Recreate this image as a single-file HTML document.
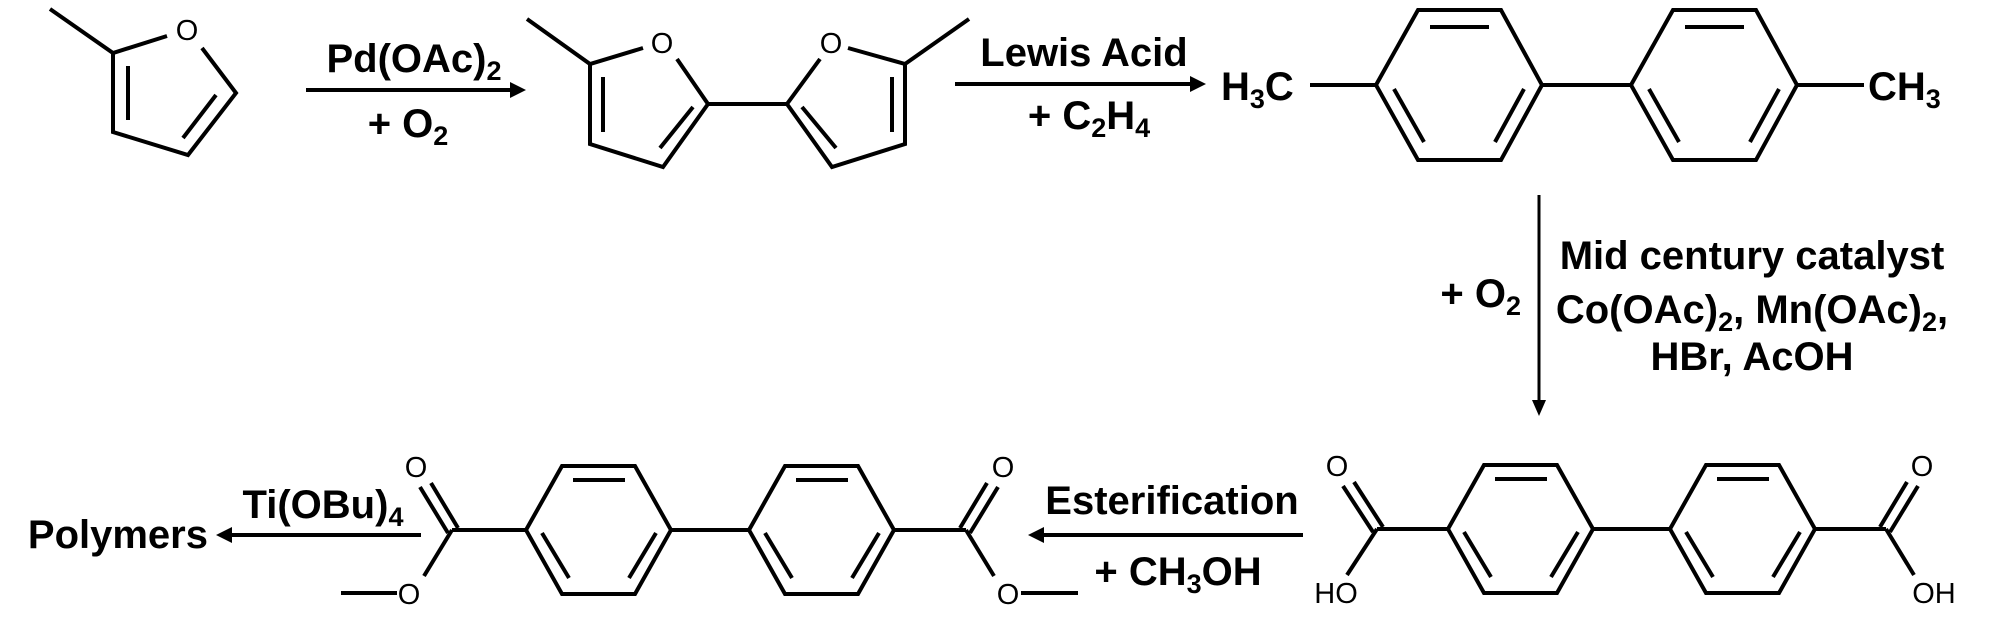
<!DOCTYPE html>
<html><head><meta charset="utf-8"><style>
html,body{margin:0;padding:0;background:#fff;}
svg{display:block}
.t{font-family:"Liberation Sans",Arial,sans-serif;font-weight:bold;font-size:40px;fill:#000}
.o{font-family:"Liberation Sans",Arial,sans-serif;font-size:29px;fill:#000}
</style></head><body>
<svg width="2000" height="619" viewBox="0 0 2000 619" xmlns="http://www.w3.org/2000/svg">
<g fill="none" stroke="#000" stroke-width="4" stroke-linejoin="miter" stroke-linecap="butt">
<!-- methylfuran -->
<polyline points="50,9 113,53 167,36"/>
<polyline points="202,48 236,93 188,155 113,132 113,53"/>
<line x1="128" y1="66" x2="128" y2="120"/>
<line x1="216" y1="95" x2="183" y2="138"/>
<!-- bifuran -->
<polyline points="527,19 590,64 643,48"/>
<polyline points="677,59 708,104 663,167 590,144 590,64"/>
<line x1="603" y1="77" x2="603" y2="132"/>
<line x1="693" y1="107" x2="660" y2="148"/>
<line x1="708" y1="104" x2="787" y2="104"/>
<polyline points="820,59 787,104 832,167 905,144 905,64 848,48"/>
<line x1="905" y1="64" x2="969" y2="19"/>
<line x1="892" y1="77" x2="892" y2="132"/>
<line x1="802" y1="107" x2="836" y2="148"/>
<!-- bitolyl -->
<g>
<polygon points="1376,85 1418,10 1501,10 1542,85 1501,160 1418,160"/>
<line x1="1430" y1="27" x2="1489" y2="27"/>
<line x1="1424" y1="142" x2="1394" y2="89"/>
<line x1="1524" y1="89" x2="1495" y2="142"/>
</g>
<g transform="translate(255,0)">
<polygon points="1376,85 1418,10 1501,10 1542,85 1501,160 1418,160"/>
<line x1="1430" y1="27" x2="1489" y2="27"/>
<line x1="1424" y1="142" x2="1394" y2="89"/>
<line x1="1524" y1="89" x2="1495" y2="142"/>
</g>
<line x1="1310" y1="85" x2="1376" y2="85"/>
<line x1="1542" y1="85" x2="1631" y2="85"/>
<line x1="1797" y1="85" x2="1864" y2="85"/>
<!-- bottom rings -->
<g>
<polygon points="1448,529 1484,465 1557,465 1593,529 1557,593 1484,593"/>
<line x1="1495" y1="479" x2="1547" y2="479"/>
<line x1="1491" y1="577" x2="1464" y2="532"/>
<line x1="1578" y1="532" x2="1551" y2="577"/>
</g>
<g transform="translate(222,0)">
<polygon points="1448,529 1484,465 1557,465 1593,529 1557,593 1484,593"/>
<line x1="1495" y1="479" x2="1547" y2="479"/>
<line x1="1491" y1="577" x2="1464" y2="532"/>
<line x1="1578" y1="532" x2="1551" y2="577"/>
</g>
<line x1="1593" y1="529" x2="1670" y2="529"/>
<g transform="translate(-922,1)">
<polygon points="1448,529 1484,465 1557,465 1593,529 1557,593 1484,593"/>
<line x1="1495" y1="479" x2="1547" y2="479"/>
<line x1="1491" y1="577" x2="1464" y2="532"/>
<line x1="1578" y1="532" x2="1551" y2="577"/>
</g>
<g transform="translate(-699,1)">
<polygon points="1448,529 1484,465 1557,465 1593,529 1557,593 1484,593"/>
<line x1="1495" y1="479" x2="1547" y2="479"/>
<line x1="1491" y1="577" x2="1464" y2="532"/>
<line x1="1578" y1="532" x2="1551" y2="577"/>
</g>
<line x1="671" y1="530" x2="749" y2="530"/>
<!-- diacid carboxyls -->
<line x1="1377" y1="529" x2="1448" y2="529"/>
<polyline points="1347,575 1377,529"/>
<line x1="1373" y1="532" x2="1343" y2="486"/>
<line x1="1383" y1="527" x2="1354" y2="482"/>
<line x1="1815" y1="529" x2="1886" y2="529"/>
<line x1="1886" y1="529" x2="1914" y2="575"/>
<line x1="1890" y1="532" x2="1918" y2="486"/>
<line x1="1880" y1="527" x2="1907" y2="482"/>
<!-- diester -->
<line x1="452" y1="530" x2="526" y2="530"/>
<line x1="452" y1="530" x2="424" y2="576"/>
<line x1="448" y1="533" x2="420" y2="487"/>
<line x1="458" y1="528" x2="431" y2="483"/>
<line x1="341" y1="593" x2="397" y2="593"/>
<line x1="892" y1="530" x2="966" y2="530"/>
<line x1="966" y1="530" x2="994" y2="576"/>
<line x1="970" y1="533" x2="998" y2="487"/>
<line x1="960" y1="528" x2="987" y2="483"/>
<line x1="1021" y1="593" x2="1078" y2="593"/>
<!-- arrows -->
<line x1="306" y1="90" x2="512" y2="90"/>
<line x1="955" y1="84" x2="1192" y2="84"/>
<line x1="1539" y1="195" x2="1539" y2="403" stroke-width="3"/>
<line x1="1303" y1="535" x2="1042" y2="535"/>
<line x1="421" y1="535" x2="230" y2="535"/>
</g>
<g fill="#000">
<polygon points="526,90 510,82 510,98"/>
<polygon points="1206,84 1190,76 1190,92"/>
<polygon points="1539,416 1532,400 1546,400"/>
<polygon points="1028,535 1044,527 1044,543"/>
<polygon points="216,535 232,527 232,543"/>
</g>
<!-- atom labels -->
<g class="o" text-anchor="middle">
<text x="187" y="40">O</text>
<text x="662" y="53">O</text>
<text x="831" y="53">O</text>
<text x="1337" y="476">O</text>
<text x="1336" y="603">HO</text>
<text x="1922" y="476">O</text>
<text x="1934" y="603">OH</text>
<text x="416" y="477">O</text>
<text x="409" y="604">O</text>
<text x="1003" y="477">O</text>
<text x="1008" y="604">O</text>
</g>
<g class="t">
<text x="1221" y="100">H<tspan font-size="27" dy="8">3</tspan><tspan dy="-8">C</tspan></text>
<text x="1868" y="100">CH<tspan font-size="27" dy="8">3</tspan></text>
</g>
<g class="t" text-anchor="middle">
<text x="414" y="72">Pd(OAc)<tspan font-size="27" dy="8">2</tspan></text>
<text x="408" y="137">+ O<tspan font-size="27" dy="8">2</tspan></text>
<text x="1084" y="66">Lewis Acid</text>
<text x="1089" y="129">+ C<tspan font-size="27" dy="8">2</tspan><tspan dy="-8">H</tspan><tspan font-size="27" dy="8">4</tspan></text>
<text x="1752" y="269">Mid century catalyst</text>
<text x="1752" y="323">Co(OAc)<tspan font-size="27" dy="8">2</tspan><tspan dy="-8">, Mn(OAc)</tspan><tspan font-size="27" dy="8">2</tspan><tspan dy="-8">,</tspan></text>
<text x="1752" y="370">HBr, AcOH</text>
<text x="1172" y="514">Esterification</text>
<text x="1178" y="585">+ CH<tspan font-size="27" dy="8">3</tspan><tspan dy="-8">OH</tspan></text>
<text x="323" y="518">Ti(OBu)<tspan font-size="27" dy="8">4</tspan></text>
</g>
<g class="t" text-anchor="end">
<text x="1521" y="307">+ O<tspan font-size="27" dy="8">2</tspan></text>
<text x="208" y="548">Polymers</text>
</g>
</svg>
</body></html>
